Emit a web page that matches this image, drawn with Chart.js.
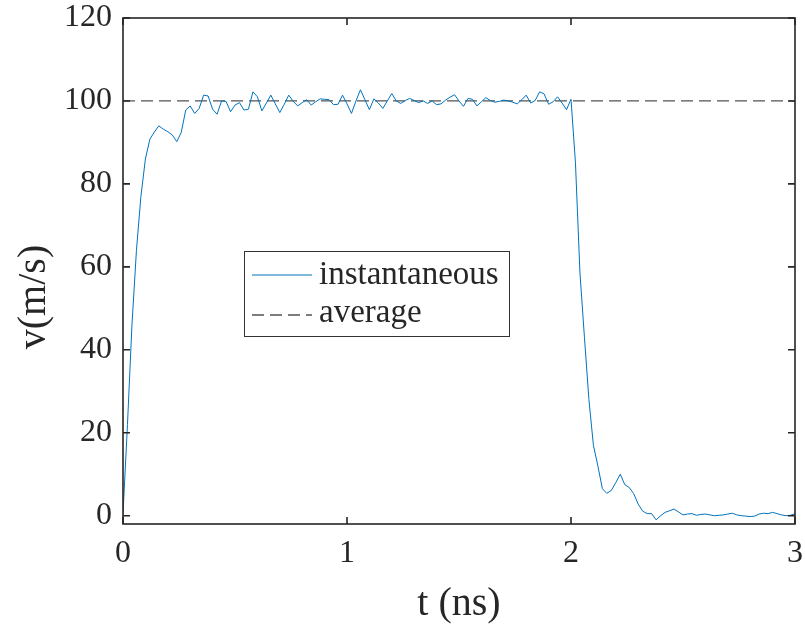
<!DOCTYPE html>
<html>
<head>
<meta charset="utf-8">
<script src="https://cdn.jsdelivr.net/npm/chart.js@4.4.1/dist/chart.umd.min.js"></script>
<style>
  html, body { margin: 0; padding: 0; background: #fff; }
  #wrap { width: 805px; height: 630px; }
</style>
</head>
<body>
<div id="wrap"><canvas id="velChart" width="805" height="630"></canvas></div>
<script>
// sampling step of the simulation (ns)
const dt = 0.02;

// instantaneous velocity (m/s), one value per time step
const instValues = [
  0.5, 22, 46, 64, 77, 86, 90.8, 92.5, 94, 93.2,
  92.6, 91.8, 90.2, 92.4, 97.8, 98.8, 97, 98.2, 101.4, 101.2,
  98, 96.8, 100, 99.9, 97.4, 99, 99.6, 97.8, 98, 102.2,
  101, 97.6, 99.5, 101.4, 99.3, 97.2, 99.2, 101.4, 99.9, 98.8,
  99.6, 100.3, 99, 99.8, 100.5, 100.4, 100.3, 99.1, 99.2, 101.4,
  99.3, 97, 100, 102.7, 100.3, 97.9, 100.5, 99.5, 98.2, 100,
  101.8, 100, 99.4, 100.1, 100.6, 100.1, 99.6, 100, 99.4, 100,
  99.1, 99.3, 100.2, 100.9, 101.5, 100, 98.7, 100.6, 100.4, 98.8,
  99.8, 100.8, 100.1, 99.7, 99.9, 100.2, 100, 99.7, 99.3, 100.3,
  101.4, 99.5, 100.1, 102.2, 101.7, 99.2, 99.8, 101, 99.5, 97.9,
  100.4, 85, 58.5, 43, 28, 17, 12, 6.5, 5.4, 6.1,
  8, 10, 7.5, 6.8, 5.3, 2.8, 1.1, 0.5, 0.5, -1,
  0, 0.8, 1.2, 1.6, 0.9, 0.2, 0.4, 0.5, 0.1, 0.3,
  0.4, 0.2, 0, 0.1, 0.2, 0.4, 0.6, 0.2, 0, -0.1,
  -0.2, -0.1, 0.4, 0.6, 0.5, 0.8, 0.5, 0.2, 0, 0.1, 0.5
];
const times = instValues.map((v, i) => +(i * dt).toFixed(2));

// average velocity line
const avgTimes = [0, 3];
const avgValues = [100, 100];

const xTicks = [0, 1, 2, 3];
const yTicks = [0, 20, 40, 60, 80, 100, 120];

const seriesNames = ['instantaneous', 'average'];

const FONT = '"Liberation Serif", "Times New Roman", serif';
const INK = '#262626';
const BLUE = '#0072BD';
const GRAY = 'rgba(64,64,64,0.9)';

// box, inward ticks, axis labels and legend drawn on top
const matlabAxes = {
  id: 'matlabAxes',
  afterDraw(chart) {
    const { ctx, chartArea: a, scales } = chart;
    const tl = 7;
    ctx.save();
    ctx.strokeStyle = INK;
    ctx.lineWidth = 1.6;
    ctx.strokeRect(a.left, a.top, a.right - a.left, a.bottom - a.top);
    ctx.beginPath();
    xTicks.forEach(v => {
      const px = scales.x.getPixelForValue(v);
      ctx.moveTo(px, a.bottom); ctx.lineTo(px, a.bottom - tl);
      ctx.moveTo(px, a.top); ctx.lineTo(px, a.top + tl);
    });
    yTicks.forEach(v => {
      const py = scales.y.getPixelForValue(v);
      ctx.moveTo(a.left, py); ctx.lineTo(a.left + tl, py);
      ctx.moveTo(a.right, py); ctx.lineTo(a.right - tl, py);
    });
    ctx.stroke();

    // axis titles
    ctx.fillStyle = INK;
    ctx.font = '40px ' + FONT;
    ctx.textAlign = 'center';
    ctx.textBaseline = 'middle';
    ctx.fillText('t (ns)', (a.left + a.right) / 2, 604);
    ctx.save();
    ctx.translate(34, 297);
    ctx.rotate(-Math.PI / 2);
    ctx.fillText('v(m/s)', 0, 0);
    ctx.restore();

    // legend
    const lx = 244, ly = 251, lw = 265, lh = 85;
    ctx.fillStyle = '#fff';
    ctx.fillRect(lx, ly, lw, lh);
    ctx.strokeStyle = '#333';
    ctx.lineWidth = 1;
    ctx.strokeRect(lx + 0.5, ly + 0.5, lw, lh);

    const rows = [275, 315];
    ctx.lineWidth = 1;
    ctx.strokeStyle = BLUE;
    ctx.beginPath(); ctx.moveTo(252, rows[0]); ctx.lineTo(312, rows[0]); ctx.stroke();
    ctx.strokeStyle = GRAY;
    ctx.lineWidth = 1.3;
    ctx.setLineDash([12, 6]);
    ctx.beginPath(); ctx.moveTo(252, rows[1]); ctx.lineTo(312, rows[1]); ctx.stroke();
    ctx.setLineDash([]);

    ctx.fillStyle = INK;
    ctx.font = '33px ' + FONT;
    ctx.textAlign = 'left';
    ctx.fillText(seriesNames[0], 319, rows[0]);
    ctx.fillText(seriesNames[1], 319, rows[1] - 2);
    ctx.restore();
  }
};

new Chart(document.getElementById('velChart').getContext('2d'), {
  type: 'line',
  data: {
    datasets: [
      {
        label: seriesNames[0],
        data: times.map((t, i) => ({ x: t, y: instValues[i] })),
        borderColor: BLUE,
        borderWidth: 1,
        pointRadius: 0,
        tension: 0,
        order: 1
      },
      {
        label: seriesNames[1],
        data: avgTimes.map((t, i) => ({ x: t, y: avgValues[i] })),
        borderColor: GRAY,
        borderWidth: 1.3,
        borderDash: [12, 6],
        pointRadius: 0,
        order: 2
      }
    ]
  },
  options: {
    responsive: false,
    animation: false,
    layout: { padding: { top: 18, right: 10, left: 0, bottom: 0 } },
    plugins: {
      legend: { display: false },
      tooltip: { enabled: false }
    },
    scales: {
      x: {
        type: 'linear',
        min: 0,
        max: 3,
        grid: { display: false, drawTicks: false },
        border: { display: false },
        afterBuildTicks: s => { s.ticks = xTicks.map(v => ({ value: v })); },
        afterFit: s => { s.height = 106; s.paddingLeft = 0; s.paddingRight = 0; },
        ticks: {
          padding: 10,
          maxRotation: 0,
          color: INK,
          font: { family: FONT, size: 32 }
        }
      },
      y: {
        min: -2,
        max: 120,
        grid: { display: false, drawTicks: false },
        border: { display: false },
        afterBuildTicks: s => { s.ticks = yTicks.map(v => ({ value: v })); },
        afterFit: s => { s.width = 123; s.paddingTop = 0; s.paddingBottom = 0; },
        ticks: {
          padding: 11,
          color: INK,
          font: { family: FONT, size: 32 }
        }
      }
    }
  },
  plugins: [matlabAxes]
});
</script>
</body>
</html>
